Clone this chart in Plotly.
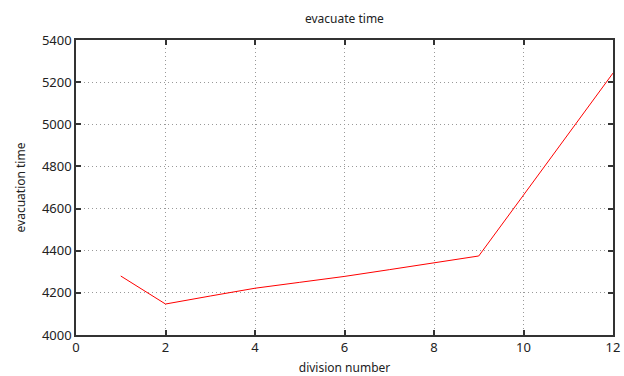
import plotly.graph_objects as go

division = [1, 2, 3, 4, 5, 6, 7, 8, 9, 10, 11, 12]
evac_time = [4280, 4147, 4185, 4222, 4250, 4278, 4310, 4342, 4375, 4664, 4954, 5243]

x_ticks = [0, 2, 4, 6, 8, 10, 12]
y_ticks = [4000, 4200, 4400, 4600, 4800, 5000, 5200, 5400]

font = "Noto Sans"
txt = "#222222"

fig = go.Figure()
fig.add_trace(go.Scatter(x=division, y=evac_time, mode="lines",
                         line=dict(color="#ff0000", width=1), showlegend=False,
                         cliponaxis=False))

axis_common = dict(
    showline=True, linecolor="#333333", linewidth=1.5, mirror="allticks",
    ticks="inside", ticklen=5, tickcolor="#333333", tickwidth=1.5,
    showgrid=True, gridcolor="#999999", griddash="1px,3px", gridwidth=1,
    zeroline=False, automargin=False,
    tickfont=dict(family=font, size=13, color=txt),
)

fig.update_layout(
    width=624, height=376,
    margin=dict(l=76, r=11, t=40, b=41),
    paper_bgcolor="white", plot_bgcolor="white",
    title=dict(text="evacuate time", x=0.552, xanchor="center", y=0.95, yanchor="middle",
               font=dict(family=font, size=12, color=txt)),
    xaxis=dict(range=[0, 12], tickvals=x_ticks,
               title=dict(text="division number", font=dict(family=font, size=12, color=txt), standoff=10),
               **axis_common),
    yaxis=dict(range=[4000, 5400], tickvals=y_ticks,
               title=dict(text="evacuation time", font=dict(family=font, size=12, color=txt), standoff=14),
               **axis_common),
)

fig.write_html("out.html", config={"displayModeBar": False},
               post_script="document.body.style.margin='0';document.body.style.overflow='hidden';")
